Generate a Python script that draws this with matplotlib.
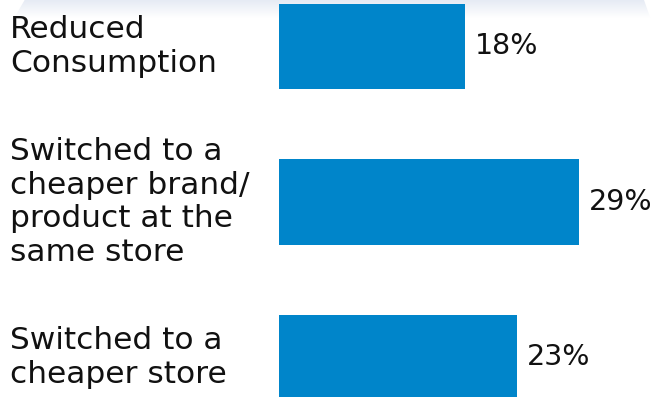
import numpy as np
import matplotlib.pyplot as plt
from matplotlib.colors import LinearSegmentedColormap
from matplotlib.patches import Polygon

categories = [
    "Reduced\nConsumption",
    "Switched to a\ncheaper brand/\nproduct at the\nsame store",
    "Switched to a\ncheaper store",
]
shares = [18, 29, 23]

bar_col = "#0085CA"
txt_col = "#111111"
plt.rcParams["font.family"] = ["DejaVu Sans"]

fig = plt.figure(figsize=(6.55, 3.97), dpi=100)
ax = fig.add_axes([0, 0, 1, 1])

# faint header band along the top edge
haze = LinearSegmentedColormap.from_list("haze", ["#ffffff", "#e6ebf4"])
grad = np.linspace(1, 0, 64).reshape(-1, 1)
band = ax.imshow(grad, cmap=haze, vmin=0, vmax=1, aspect="auto",
                 extent=(-27, 36.4, -0.185, -0.299), zorder=0)
clip = Polygon([(-24.6, -0.299), (35.3, -0.299), (35.9, -0.185), (-25.6, -0.185)],
               closed=True, transform=ax.transData, facecolor="none", edgecolor="none")
ax.add_patch(clip)
band.set_clip_path(clip)

y = np.arange(len(categories))
ax.barh(y, shares, height=0.548, color=bar_col, zorder=2)

for yi, lab, v in zip(y, categories, shares):
    ax.text(10 / 655, yi, lab, ha="left", va="center", fontsize=22.5,
            color=txt_col, linespacing=1.2,
            transform=ax.get_yaxis_transform())
    ax.text(v + 0.95, yi, f"{v}%", ha="left", va="center", fontsize=20.5,
            color=txt_col)

ax.set_xlim(-279 / 10.34, (655 - 279) / 10.34)
ax.set_ylim(397 / 155.5 - 0.299, -0.299)
ax.axis("off")

fig.savefig("out.png", dpi=100)
